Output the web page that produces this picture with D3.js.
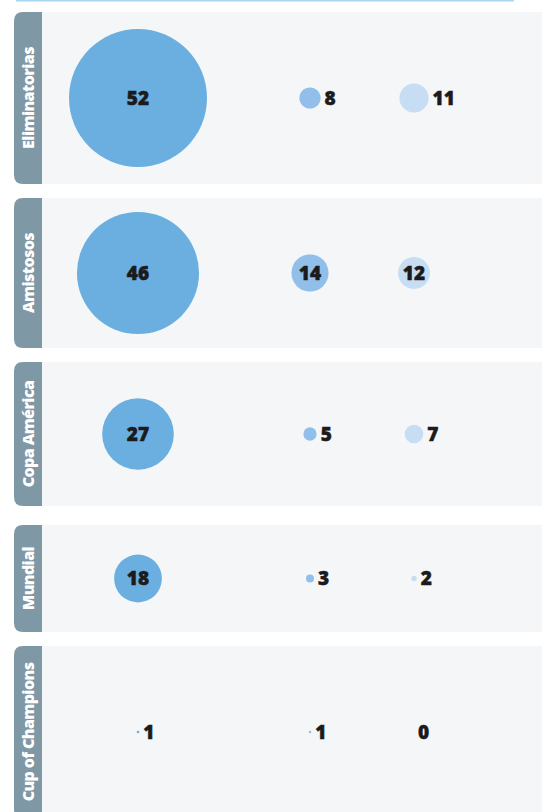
<!DOCTYPE html>
<html>
<head>
<meta charset="utf-8">
<script src="https://cdn.jsdelivr.net/npm/d3@7/dist/d3.min.js"></script>
<style>
  html, body { margin: 0; padding: 0; background: #ffffff; }
  svg { display: block; }
</style>
</head>
<body>
<script>
// ---- Data ----
const categories = ["Eliminatorias", "Amistosos", "Copa América", "Mundial", "Cup of Champions"];
const seriesNames = ["s1", "s2", "s3"];
const series1 = [52, 46, 27, 18, 1];
const series2 = [8, 14, 5, 3, 1];
const series3 = [11, 12, 7, 2, 0];

// ---- Layout ----
const W = 551, H = 812;
const rowTop = [12, 198, 362, 525, 646];
const rowHeight = [172, 150, 144, 107, 172];
const colX = [138, 310, 414];
const colors = ["#6aafe0", "#92bfe9", "#c7ddf3"];

const svg = d3.select("body").append("svg").attr("width", W).attr("height", H);

// top rule
svg.append("rect").attr("x", 16).attr("y", 0).attr("width", 498).attr("height", 1.5).attr("fill", "#a8d5f1");

const x = d3.scaleOrdinal().domain(seriesNames).range(colX);
const color = d3.scaleOrdinal().domain(seriesNames).range(colors);
const r = d3.scaleLinear().domain([0, 52]).range([0, 69]);

const values = [series1, series2, series3];

categories.forEach((cat, i) => {
  const top = rowTop[i], h = rowHeight[i], cy = top + h / 2;
  const g = svg.append("g");
  g.append("rect").attr("x", 40).attr("y", top).attr("width", 502).attr("height", h).attr("fill", "#f5f6f8");
  const tx = 14, tw = 28, rr = 9;
  g.append("path")
    .attr("d", `M${tx + tw},${top} L${tx + rr},${top} Q${tx},${top} ${tx},${top + rr} L${tx},${top + h - rr} Q${tx},${top + h} ${tx + rr},${top + h} L${tx + tw},${top + h} Z`)
    .attr("fill", "#7f98a5");
  g.append("text")
    .attr("transform", `translate(${tx + tw / 2 + 6},${cy}) rotate(-90)`)
    .attr("text-anchor", "middle")
    .attr("fill", "#ffffff")
    .style("font-family", "'Open Sans', sans-serif")
    .style("font-weight", 800)
    .style("font-size", "16px")
    .style("letter-spacing", "-0.6px")
    .text(cat);

  seriesNames.forEach((s, j) => {
    const v = values[j][i];
    const cx = x(s), rad = r(v);
    if (v > 0) {
      g.append("circle").attr("cx", cx).attr("cy", cy).attr("r", rad).attr("fill", color(s));
    }
    const inside = v >= 12;
    g.append("text")
      .attr("x", inside ? cx : cx + rad + 4)
      .attr("y", cy)
      .attr("dy", "0.36em")
      .attr("text-anchor", inside ? "middle" : "start")
      .attr("fill", "#1b1b1d")
      .style("font-family", "'Open Sans', sans-serif")
      .style("font-weight", 800)
      .style("font-size", "19px")
      .style("stroke", "#1b1b1d")
      .style("stroke-width", "0.5px")
      .text(v);
  });
});
</script>
</body>
</html>
